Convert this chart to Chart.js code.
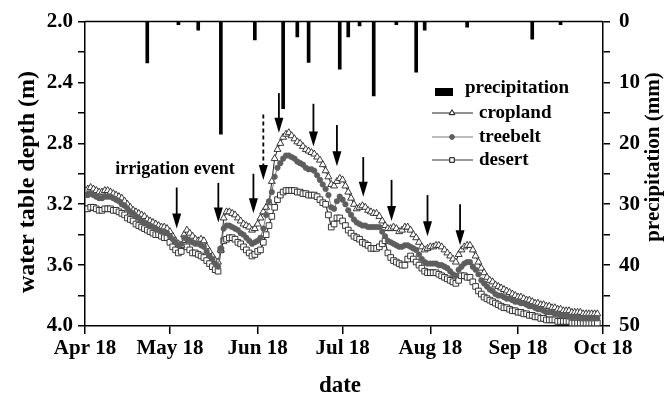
<!DOCTYPE html>
<html>
<head>
<meta charset="utf-8">
<script src="https://cdn.jsdelivr.net/npm/chart.js@4.4.0/dist/chart.umd.min.js"></script>
<style>
  html, body { margin: 0; padding: 0; background: #fff; }
  #wrap { width: 670px; height: 399px; position: relative; }
</style>
</head>
<body>
<div id="wrap"><canvas id="c" width="670" height="399"></canvas></div>
<script>
// ---- data (day 0 = Apr 18) ----
const tickDays = [0, 30, 61, 91, 122, 153, 183];
const tickLabels = ['Apr 18', 'May 18', 'Jun 18', 'Jul 18', 'Aug 18', 'Sep 18', 'Oct 18'];

const cropland = [
3.11,3.10,3.09,3.10,3.11,3.12,3.12,3.11,3.11,3.12,
3.13,3.14,3.15,3.16,3.18,3.20,3.22,3.24,3.25,3.26,
3.27,3.28,3.30,3.31,3.32,3.33,3.34,3.35,3.35,3.36,
3.38,3.41,3.44,3.46,3.47,3.40,3.37,3.39,3.41,3.43,
3.44,3.43,3.44,3.48,3.51,3.54,3.57,3.58,3.50,3.29,
3.25,3.25,3.26,3.27,3.29,3.31,3.33,3.34,3.35,3.37,
3.36,3.33,3.29,3.25,3.22,3.19,3.05,2.90,2.84,2.80,
2.76,2.74,2.73,2.75,2.77,2.79,2.80,2.82,2.84,2.85,
2.86,2.87,2.89,2.91,2.94,2.98,3.02,3.07,3.08,3.05,
3.03,3.04,3.08,3.12,3.16,3.20,3.23,3.22,3.21,3.22,
3.24,3.25,3.26,3.26,3.28,3.31,3.34,3.36,3.36,3.35,
3.36,3.38,3.37,3.35,3.35,3.37,3.40,3.42,3.45,3.48,
3.50,3.49,3.48,3.48,3.47,3.47,3.48,3.50,3.52,3.54,
3.56,3.58,3.53,3.50,3.48,3.47,3.47,3.50,3.54,3.58,
3.62,3.65,3.68,3.70,3.71,3.73,3.74,3.75,3.76,3.77,
3.78,3.79,3.80,3.81,3.81,3.82,3.83,3.83,3.84,3.85,
3.85,3.86,3.86,3.87,3.87,3.88,3.88,3.89,3.89,3.90,
3.90,3.90,3.91,3.91,3.91,3.91,3.92,3.92,3.92,3.92,
3.92,3.92];

const treebelt = [
3.14,3.14,3.13,3.14,3.15,3.16,3.16,3.15,3.15,3.15,
3.16,3.17,3.18,3.20,3.21,3.23,3.25,3.26,3.28,3.29,
3.31,3.32,3.33,3.34,3.35,3.36,3.37,3.38,3.38,3.39,
3.41,3.43,3.45,3.47,3.46,3.42,3.43,3.44,3.45,3.46,
3.46,3.47,3.48,3.51,3.54,3.56,3.59,3.61,3.49,3.36,
3.34,3.34,3.35,3.36,3.37,3.39,3.40,3.42,3.44,3.46,
3.45,3.44,3.42,3.36,3.27,3.18,3.12,3.02,2.96,2.93,
2.90,2.88,2.88,2.89,2.90,2.92,2.93,2.94,2.96,2.97,
2.97,2.98,3.01,3.04,3.07,3.10,3.14,3.22,3.23,3.18,
3.15,3.17,3.20,3.24,3.27,3.30,3.32,3.33,3.34,3.34,
3.35,3.35,3.35,3.35,3.35,3.38,3.41,3.44,3.45,3.46,
3.47,3.48,3.48,3.47,3.47,3.48,3.49,3.50,3.53,3.56,
3.58,3.59,3.59,3.59,3.59,3.60,3.60,3.61,3.62,3.64,
3.66,3.67,3.63,3.61,3.59,3.58,3.58,3.61,3.63,3.66,
3.70,3.72,3.74,3.76,3.77,3.79,3.80,3.80,3.81,3.82,
3.82,3.83,3.84,3.84,3.85,3.85,3.86,3.87,3.87,3.88,
3.89,3.89,3.90,3.91,3.91,3.91,3.92,3.92,3.93,3.93,
3.93,3.94,3.94,3.94,3.94,3.95,3.95,3.95,3.95,3.95,
3.95,3.95];

const desert = [
3.23,3.23,3.22,3.22,3.23,3.24,3.24,3.23,3.23,3.23,
3.24,3.24,3.25,3.26,3.27,3.29,3.30,3.31,3.33,3.34,
3.35,3.36,3.37,3.38,3.39,3.40,3.40,3.41,3.42,3.42,
3.45,3.48,3.50,3.52,3.51,3.47,3.48,3.50,3.52,3.52,
3.53,3.54,3.55,3.57,3.59,3.61,3.63,3.64,3.50,3.44,
3.43,3.42,3.42,3.43,3.45,3.46,3.48,3.50,3.52,3.54,
3.53,3.51,3.50,3.45,3.40,3.34,3.28,3.22,3.17,3.14,
3.12,3.11,3.11,3.11,3.11,3.12,3.12,3.13,3.13,3.14,
3.14,3.14,3.15,3.17,3.19,3.20,3.27,3.35,3.33,3.29,
3.29,3.31,3.34,3.37,3.39,3.41,3.42,3.43,3.45,3.46,
3.47,3.49,3.49,3.49,3.48,3.46,3.44,3.52,3.55,3.57,
3.58,3.59,3.60,3.60,3.56,3.54,3.56,3.58,3.60,3.62,
3.64,3.65,3.65,3.65,3.65,3.66,3.67,3.68,3.69,3.70,
3.71,3.72,3.70,3.67,3.67,3.68,3.68,3.71,3.74,3.77,
3.79,3.81,3.82,3.83,3.84,3.85,3.86,3.87,3.88,3.88,
3.89,3.90,3.90,3.91,3.91,3.92,3.92,3.93,3.93,3.94,
3.94,3.95,3.95,3.96,3.96,3.96,3.96,3.97,3.97,3.97,
3.97,3.97,3.98,3.98,3.98,3.98,3.98,3.98,3.98,3.98,
3.98,3.98];

const precipDays = [22, 33, 40, 48, 60, 70, 75, 79, 90, 93, 97, 102, 110, 117, 120, 135, 158, 168];
const precipMM   = [6.8, 0.5, 1.4, 18.5, 3.0, 14.3, 2.5, 6.7, 7.8, 2.5, 0.7, 12.2, 0.5, 8.3, 1.4, 0.9, 2.9, 0.5];

// irrigation event arrows: day, top depth, tip depth, dashed
const arrowDays = [32.4, 47.1, 59.5, 63.0, 68.5, 80.7, 89.0, 98.3, 108.3, 121.0, 132.5];
const arrowTop  = [3.09, 3.06, 3.00, 2.61, 2.47, 2.54, 2.68, 2.89, 3.04, 3.14, 3.20];
const arrowTip  = [3.36, 3.32, 3.26, 3.04, 2.73, 2.82, 2.95, 3.15, 3.31, 3.41, 3.47];
const arrowDashed = [false, false, false, true, false, false, false, false, false, false, false];

// ---- build ----
const FONT = '"Liberation Serif", "Times New Roman", serif';
const toXY = arr => arr.map((v, i) => ({ x: i, y: v }));
const precipData = precipDays.map((d, i) => ({ x: d, y: precipMM[i] }));

const overlay = {
  id: 'overlay',
  afterDraw(chart) {
    const ctx = chart.ctx;
    const ca = chart.chartArea;
    const xs = chart.scales.x, ys = chart.scales.y;
    ctx.save();
    // top frame line
    ctx.strokeStyle = '#000';
    ctx.lineWidth = 1.5;
    ctx.beginPath();
    ctx.moveTo(ca.left, ca.top);
    ctx.lineTo(ca.right, ca.top);
    ctx.stroke();

    // arrows
    ctx.fillStyle = '#000';
    for (let i = 0; i < arrowDays.length; i++) {
      const x = xs.getPixelForValue(arrowDays[i]);
      const y0 = ys.getPixelForValue(arrowTop[i]);
      const y1 = ys.getPixelForValue(arrowTip[i]);
      const head = 15, hw = 4.5;
      ctx.lineWidth = 1.8;
      ctx.setLineDash(arrowDashed[i] ? [4, 3] : []);
      ctx.beginPath();
      ctx.moveTo(x, y0);
      ctx.lineTo(x, y1 - head + 1);
      ctx.stroke();
      ctx.setLineDash([]);
      ctx.beginPath();
      ctx.moveTo(x - hw, y1 - head);
      ctx.lineTo(x + hw, y1 - head);
      ctx.lineTo(x, y1);
      ctx.closePath();
      ctx.fill();
    }

    // annotation text
    ctx.font = 'bold 18px ' + FONT;
    ctx.textAlign = 'center';
    ctx.textBaseline = 'middle';
    ctx.fillText('irrigation event', xs.getPixelForValue(31.8), ys.getPixelForValue(2.97));

    // axis titles
    ctx.font = 'bold 24px ' + FONT;
    ctx.save();
    ctx.translate(28, 182);
    ctx.rotate(-Math.PI / 2);
    ctx.fillText('water table depth (m)', 0, 0);
    ctx.restore();
    ctx.save();
    ctx.font = 'bold 21px ' + FONT;
    ctx.translate(654, 157);
    ctx.rotate(-Math.PI / 2);
    ctx.fillText('precipitation (mm)', 0, 0);
    ctx.restore();
    ctx.font = 'bold 23px ' + FONT;
    ctx.fillText('date', 340, 386);

    // legend
    ctx.textAlign = 'left';
    ctx.font = 'bold 19px ' + FONT;
    ctx.fillStyle = '#000';
    ctx.fillRect(435, 88, 18, 8);
    ctx.fillText('precipitation', 465, 88);
    const rows = [
      { y: 113, label: 'cropland', ds: 1 },
      { y: 137, label: 'treebelt', ds: 2 },
      { y: 160, label: 'desert', ds: 3 }
    ];
    rows.forEach(r => {
      const ds = chart.data.datasets[r.ds];
      ctx.strokeStyle = ds.borderColor;
      ctx.lineWidth = ds.borderWidth;
      ctx.beginPath();
      ctx.moveTo(432, r.y);
      ctx.lineTo(473, r.y);
      ctx.stroke();
      ctx.lineWidth = 1;
      ctx.strokeStyle = ds.pointBorderColor;
      ctx.fillStyle = ds.pointBackgroundColor;
      Chart.helpers.drawPoint(ctx, { pointStyle: ds.pointStyle, radius: ds.pointRadius * 0.8, borderWidth: 1 }, 452, r.y);
      ctx.fill();
      ctx.stroke();
      ctx.fillStyle = '#000';
      ctx.fillText(r.label, 479, r.y);
    });
    ctx.restore();
  }
};

new Chart(document.getElementById('c'), {
  data: {
    datasets: [
      { type: 'bar', label: 'precipitation', data: precipData, yAxisID: 'y2',
        backgroundColor: '#000', borderWidth: 0, barThickness: 3, order: 5 },
      { type: 'line', label: 'cropland', data: toXY(cropland), yAxisID: 'y',
        borderColor: '#222', borderWidth: 1, pointStyle: 'triangle', pointRadius: 4,
        pointBackgroundColor: '#fff', pointBorderColor: '#222', pointBorderWidth: 0.9, order: 3 },
      { type: 'line', label: 'treebelt', data: toXY(treebelt), yAxisID: 'y',
        borderColor: '#777', borderWidth: 1, pointStyle: 'circle', pointRadius: 2.8,
        pointBackgroundColor: '#5e5e5e', pointBorderColor: '#5e5e5e', pointBorderWidth: 0.5, order: 2 },
      { type: 'line', label: 'desert', data: toXY(desert), yAxisID: 'y',
        borderColor: '#333', borderWidth: 1.2, pointStyle: 'rect', pointRadius: 4,
        pointBackgroundColor: '#fff', pointBorderColor: '#222', pointBorderWidth: 0.9, order: 4 }
    ]
  },
  options: {
    responsive: false,
    animation: false,
    devicePixelRatio: 1,
    layout: { padding: { top: 20, left: 0, right: 0, bottom: 0 } },
    plugins: { legend: { display: false }, tooltip: { enabled: false } },
    scales: {
      x: {
        type: 'linear', position: 'bottom', min: 0, max: 183, offset: false,
        afterBuildTicks: s => { s.ticks = tickDays.map(v => ({ value: v })); },
        afterFit: s => { s.height = 73; },
        ticks: {
          autoSkip: false, maxRotation: 0, padding: 2, color: '#000',
          font: { family: FONT, size: 21, weight: 'bold' },
          callback: v => tickLabels[tickDays.indexOf(v)]
        },
        grid: { offset: false, drawOnChartArea: false, drawTicks: true, tickLength: 8, color: '#000', lineWidth: 1.5 },
        border: { display: true, color: '#000', width: 1.5 }
      },
      y: {
        type: 'linear', position: 'left', min: 2, max: 4, reverse: true,
        afterFit: s => { s.width = 85; },
        ticks: {
          stepSize: 0.2, autoSkip: false, padding: 5, color: '#000',
          font: { family: FONT, size: 21, weight: 'bold' },
          callback: v => (Math.round(v * 10) % 4 === 0 ? v.toFixed(1) : '')
        },
        grid: { drawOnChartArea: false, drawTicks: true, tickLength: 7, color: '#000', lineWidth: 1.5 },
        border: { display: true, color: '#000', width: 1.5 }
      },
      y2: {
        type: 'linear', position: 'right', min: 0, max: 50, reverse: true,
        afterFit: s => { s.width = 67; },
        ticks: {
          stepSize: 5, autoSkip: false, padding: 9, color: '#000',
          font: { family: FONT, size: 21, weight: 'bold' },
          callback: v => (v % 10 === 0 ? String(v) : '')
        },
        grid: { drawOnChartArea: false, drawTicks: true, tickLength: 7, color: '#000', lineWidth: 1.5 },
        border: { display: true, color: '#000', width: 1.5 }
      }
    }
  },
  plugins: [overlay]
});
</script>
</body>
</html>
